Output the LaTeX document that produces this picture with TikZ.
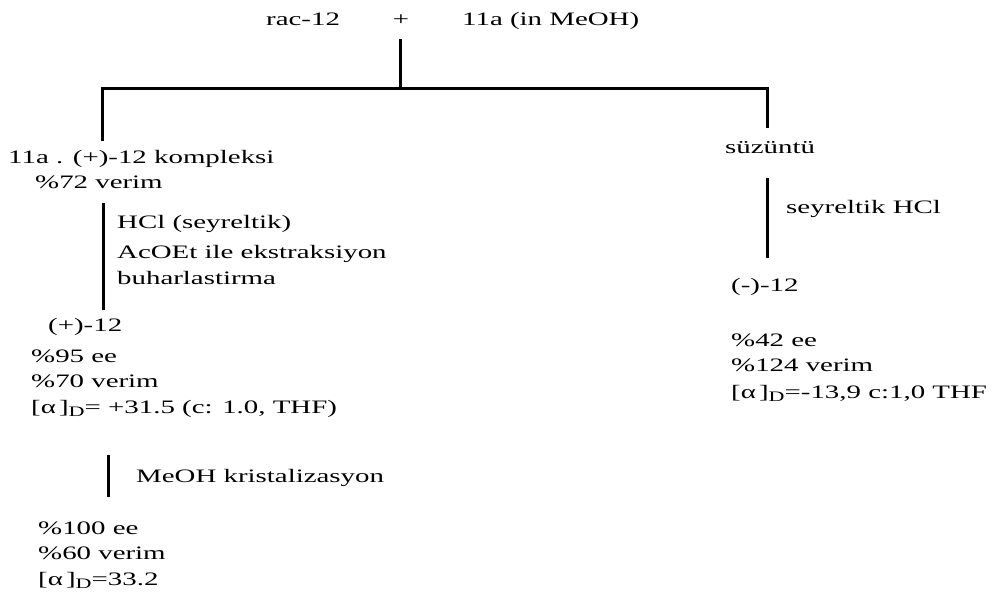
\documentclass[tikz,border=0pt]{standalone}
\usepackage{fontspec}
\setmainfont[FakeStretch=1.52]{Liberation Serif}
\newcommand{\rotD}{[α\,]\raisebox{-0.45ex}{\fontsize{14.5}{15}\selectfont D}}
\begin{document}
\begin{tikzpicture}[x=1pt,y=-1pt,
  lbl/.style={anchor=base west,inner sep=0pt,font=\fontsize{19}{25}\selectfont},
  bar/.style={line width=3pt,line cap=butt}]
\useasboundingbox (0,0) rectangle (1005,605);
% starting materials
\node[lbl] (rac) at (266,25) {rac-12};
\node[lbl,anchor=base] (plus) at (401,25) {+};
\node[lbl] (sal) at (462,25) {11a (in MeOH)};
\coordinate (top) at (400,39);
\coordinate (mid) at (400,88);
\coordinate (lft) at (102,88);
\coordinate (rgt) at (767,88);
\coordinate (lend) at (102,141);
\coordinate (rend) at (767,128);
\draw[bar] (top) -- (mid);
\draw[bar] ([xshift=-1.5pt]lft) -- ([xshift=1.5pt]rgt);
\draw[bar] ([yshift=-1.5pt]lft) -- (lend);
\draw[bar] ([yshift=-1.5pt]rgt) -- (rend);
% left branch: complex
\node[lbl] (kompleks) at (8,163) {11a . (+)-12 kompleksi};
\node[lbl] (verim1) at (35,188) {\%72 verim};
\coordinate (s1a) at (103,203);
\coordinate (s1b) at (103,310);
\draw[bar] (s1a) -- (s1b);
\node[lbl] (hcl) at (117,228) {HCl (seyreltik)};
\node[lbl] (acoet) at (117,258) {AcOEt ile ekstraksiyon};
\node[lbl] (buhar) at (117,284) {buharlastirma};
\node[lbl] (plus12) at (48,331) {(+)-12};
\node[lbl] (ee95) at (31,362) {\%95 ee};
\node[lbl] (v70) at (31,387) {\%70 verim};
\node[lbl] (rot1) at (31,413) {\rotD= +31.5 (c: 1.0, THF)};
\coordinate (s2a) at (108,455);
\coordinate (s2b) at (108,497);
\draw[bar] (s2a) -- (s2b);
\node[lbl] (kris) at (136,482) {MeOH kristalizasyon};
\node[lbl] (ee100) at (38,534) {\%100 ee};
\node[lbl] (v60) at (38,559) {\%60 verim};
\node[lbl] (rot2) at (38,585) {\rotD=33.2};
% right branch: filtrate
\node[lbl] (suz) at (725,153) {süzüntü};
\coordinate (s3a) at (767,178);
\coordinate (s3b) at (767,258);
\draw[bar] (s3a) -- (s3b);
\node[lbl] (seyr) at (786,213) {seyreltik HCl};
\node[lbl] (minus12) at (731,291) {(-)-12};
\node[lbl] (ee42) at (731,346) {\%42 ee};
\node[lbl] (v124) at (731,371) {\%124 verim};
\node[lbl] (rot3) at (731,398) {\rotD=-13,9 c:1,0 THF};
\end{tikzpicture}
\end{document}
